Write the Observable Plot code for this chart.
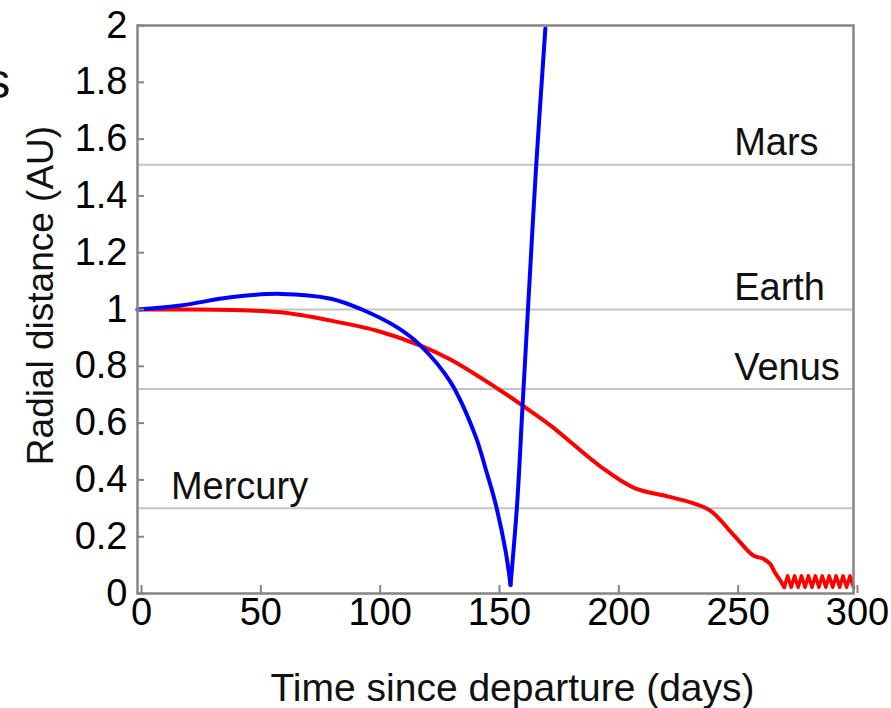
<!DOCTYPE html>
<html><head><meta charset="utf-8">
<script src="https://cdn.jsdelivr.net/npm/d3@7"></script>
<script src="https://cdn.jsdelivr.net/npm/@observablehq/plot@0.6"></script>
<style>body{margin:0;background:#fff} #chart{width:891px;height:708px}</style>
</head><body><div id="chart"></div>
<script>
// Axis ticks
const xTicks = [0, 50, 100, 150, 200, 250, 300];
const yTicks = [0, 0.2, 0.4, 0.6, 0.8, 1, 1.2, 1.4, 1.6, 1.8, 2];

// Planet orbits (AU) and label anchor days
const planetNames = ["Mars", "Earth", "Venus", "Mercury"];
const planetAU = [1.51, 1.0, 0.72, 0.30];
const planetLabelDay = [250, 250, 250, 14];

// Red trajectory (smooth part)
const redDays = [0, 20, 40, 60, 81, 100, 118.6, 131.1, 150.8, 161.3, 173, 194, 208, 222, 232, 240, 250, 258, 262, 265, 267, 269, 271];
const redAU   = [1.0, 1.0, 0.998, 0.99, 0.961, 0.926, 0.873, 0.824, 0.722, 0.662, 0.592, 0.447, 0.372, 0.342, 0.32, 0.292, 0.204, 0.134, 0.123, 0.105, 0.075, 0.05, 0.022];

// Red trajectory (oscillating tail)
const redTailDays = [271, 272.4, 273.9, 275.3, 276.8, 278.2, 279.7, 281.1, 282.6, 284, 285.5, 286.9, 288.4, 289.8, 291.3, 292.7, 294.2, 295.6, 297.1, 298.5, 300];
const redTailAU   = [0.022, 0.062, 0.022, 0.062, 0.022, 0.062, 0.022, 0.062, 0.022, 0.062, 0.022, 0.062, 0.022, 0.062, 0.022, 0.062, 0.022, 0.062, 0.022, 0.062, 0.022];

// Blue trajectory: descent to the Sun, then escape
const blueFallDays = [0, 18, 39, 60, 81, 94, 109, 118.6, 131.1, 141.6, 146, 150, 154.2, 156.3];
const blueFallAU   = [1.0, 1.014, 1.043, 1.055, 1.038, 1.0, 0.936, 0.873, 0.745, 0.555, 0.435, 0.317, 0.151, 0.03];
const blueRiseDays = [156.3, 159.1, 161.3, 163.6, 167.0, 170.9];
const blueRiseAU   = [0.03, 0.32, 0.655, 1.0, 1.5, 1.99];

const toRows = (xs, ys) => xs.map((d, i) => ({day: d, au: ys[i]}));
const red = toRows(redDays, redAU);
const redTail = toRows(redTailDays, redTailAU);
const blueFall = toRows(blueFallDays, blueFallAU);
const blueRise = toRows(blueRiseDays, blueRiseAU);
const planets = planetNames.map((n, i) => ({name: n, au: planetAU[i], day: planetLabelDay[i]}));

const font = "'Liberation Sans', Arial, Helvetica, sans-serif";
const axisGray = "#858585";

const chart = Plot.plot({
  width: 891,
  height: 708,
  marginLeft: 137,
  marginRight: 38,
  marginTop: 25,
  marginBottom: 115,
  style: {fontFamily: font, fontSize: "38px", color: "#000", background: "#fff", overflow: "visible"},
  x: {domain: [0, 300], ticks: xTicks},
  y: {domain: [0, 2], ticks: yTicks},
  marks: [
    Plot.ruleY(planets, {y: "au", stroke: "#c4c4c4", strokeWidth: 2}),
    Plot.line(red, {x: "day", y: "au", stroke: "#ff0000", strokeWidth: 4, curve: "catmull-rom"}),
    Plot.line(redTail, {x: "day", y: "au", stroke: "#ff0000", strokeWidth: 3.5, curve: "linear"}),
    Plot.line(blueFall, {x: "day", y: "au", stroke: "#0000ff", strokeWidth: 4, curve: "catmull-rom"}),
    Plot.line(blueRise, {x: "day", y: "au", stroke: "#0000ff", strokeWidth: 4, curve: "catmull-rom"}),
    Plot.frame({stroke: axisGray, strokeWidth: 2.5}),
    Plot.axisX(xTicks, {tickSize: -8, tickPadding: 13, stroke: axisGray, strokeWidth: 2, fontSize: 38, dx: 4, label: null, tickFormat: d => `${d}`}),
    Plot.axisY(yTicks, {tickSize: -7, tickPadding: 17, stroke: axisGray, strokeWidth: 2, fontSize: 38, label: null, tickFormat: d => `${d}`}),
    Plot.text(planets, {x: "day", y: "au", text: "name", textAnchor: "start", lineAnchor: "bottom", dy: -9.5, fontSize: 38, fill: "#111"}),
    Plot.text(["Time since departure (days)"], {frameAnchor: "bottom", textAnchor: "middle", lineAnchor: "bottom", dx: 17, dy: 107, fontSize: 39, fill: "#111"}),
    Plot.text(["Radial distance (AU)"], {frameAnchor: "left", textAnchor: "middle", rotate: -90, lineAnchor: "middle", dx: -96, dy: -14, fontSize: 37, fill: "#111"}),
    Plot.text(["s"], {frameAnchor: "top-left", textAnchor: "end", lineAnchor: "bottom", dx: -127, dy: 72, fontSize: 50, fill: "#111"})
  ]
});
document.getElementById("chart").appendChild(chart);
</script>
</body></html>
